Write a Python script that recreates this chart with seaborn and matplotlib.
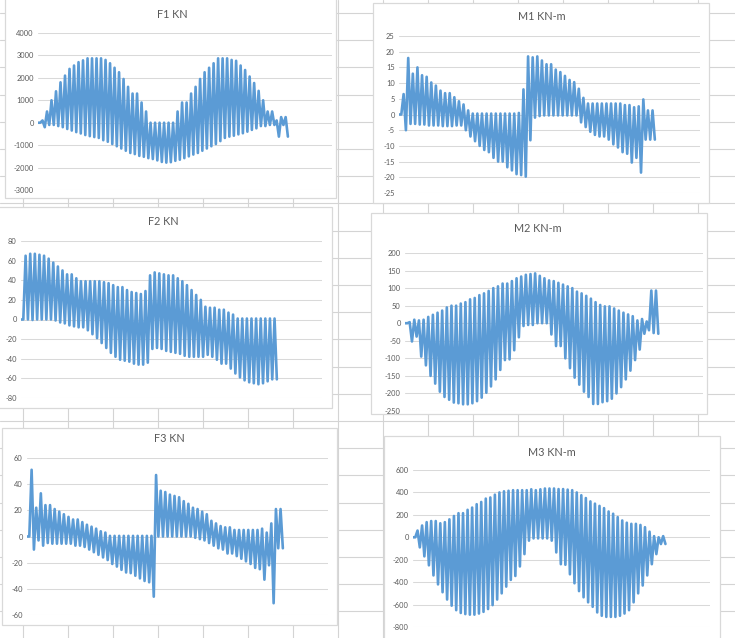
"""
plot.py — six Excel-style member force / moment traces laid out on a spreadsheet grid.
"""
import matplotlib
matplotlib.use("Agg")
import matplotlib.pyplot as plt
import seaborn as sns
import pandas as pd
from matplotlib.patches import Rectangle

# ─── Data (peak / trough of every load step) ─────────────────────────────────

f1_peaks = [100, 500, 1000, 1400, 1800, 2100, 2400, 2550, 2700, 2780,
            2870, 2870, 2870, 2870, 2800, 2650, 2450, 2250, 1950, 1600,
            1300, 1300, 900, 500, 0, 0, 0, 0, 0, 0,
            500, 900, 900, 1300, 1600, 1950, 2250, 2450, 2650, 2870,
            2870, 2870, 2800, 2760, 2550, 2350, 2060, 1770, 1420, 1000,
            500, 500, 100, 250, 250]
f1_troughs = [-200, -100, -100, -150, -200, -280, -350, -420, -480, -550,
              -600, -640, -680, -780, -850, -950, -1050, -1150, -1250, -1350,
              -1400, -1480, -1520, -1580, -1620, -1680, -1750, -1780, -1760, -1700,
              -1650, -1580, -1500, -1420, -1350, -1250, -1150, -1050, -950, -820,
              -680, -620, -580, -520, -470, -400, -320, -250, -150, -150,
              -100, -100, -620, -100, -620]

m1_peaks = [6.5, 18, 13, 15, 12.5, 12, 10.2, 9.2, 7.6, 6.8,
            6.8, 5.5, 4.2, 3.2, 1.3, 0.3, 0.3, 0.3, 0.3, 0.3,
            0.3, 0.3, 0.3, 0.3, 0.3, 0.5, 8, 18.5, 18.2, 18.5,
            17.2, 16, 16, 14.3, 13.5, 12.3, 11, 10.3, 8.2, 5.3,
            3.5, 3.5, 3.5, 3.5, 3.5, 3.5, 3.5, 3.5, 3, 3,
            2.3, 2.6, 4.8, 1.3, 1.3]
m1_troughs = [-5, -3, -3, -3.2, -3.2, -3.5, -3.5, -3.5, -3.7, -3.7,
              -3.7, -3.5, -3.5, -5, -7, -8.5, -10, -11.3, -12, -13.8,
              -15, -15, -16.8, -17.8, -19, -19.3, -19.8, -8.2, -1, -0.5,
              -0.3, -0.3, -0.3, -0.3, -0.3, -0.3, -0.3, -0.3, -2.5, -4,
              -5.5, -6.5, -7, -7, -8, -9.5, -10.5, -12, -12.5, -15.3,
              -13.8, -18.5, -8, -8, -8]

f2_peaks = [65, 67, 67, 66, 65, 62, 58, 54, 50, 46,
            46, 42, 39, 39, 39, 39, 39, 38, 37, 35,
            33, 33, 30, 28, 27, 26, 29, 45, 48, 47,
            46, 45, 45, 42, 39, 35, 30, 25, 20, 13,
            12, 12, 10, 10, 7, 5, 1, 1, 1, 1,
            1, 1, 1, 1, 1]
f2_troughs = [0, -0.5, 0, 0, 0, 0, -1, -3, -4, -6,
              -7, -8, -8, -11, -15, -19, -24, -29, -34, -38,
              -41, -42, -43, -45, -46, -46, -44, -30, -29, -30,
              -32, -33, -34, -35, -37, -38, -38, -38, -38, -36,
              -38, -41, -45, -45, -50, -55, -59, -62, -64, -65,
              -66, -65, -63, -61, -61]

m2_peaks = [3, 10, 8, 10, 18, 24, 30, 36, 45, 50,
            50, 56, 60, 68, 72, 80, 85, 92, 100, 105,
            113, 113, 120, 128, 133, 138, 140, 142, 135, 128,
            122, 120, 115, 110, 105, 100, 90, 85, 78, 70,
            60, 52, 48, 48, 42, 36, 30, 25, 20, 8,
            12, 5, 93, 93]
m2_troughs = [-52, -38, -95, -120, -150, -172, -195, -210, -218, -226,
              -228, -231, -231, -228, -222, -212, -198, -180, -160, -133,
              -105, -103, -77, -40, -8, -5, -5, 0, 0, 0,
              -32, -65, -65, -100, -128, -155, -175, -195, -210, -230,
              -230, -225, -222, -215, -200, -182, -160, -135, -105, -75,
              -30, -20, -28, -30]

f3_peaks = [51, 22, 33, 24, 24, 21, 19, 17, 15, 13,
            13, 11, 9, 7.5, 6, 4, 3, 0.5, 0.5, 0.5,
            0.5, 0.5, 0.5, 0.5, 0.5, 0.5, 0.5, 47, 35, 34,
            32, 31, 30, 27, 25, 22, 21, 19, 17, 12,
            10, 8, 7, 7, 5, 5, 5, 5, 5, 5,
            6, 3, 10, 21, 21]
f3_troughs = [-10, -3, -7, -5, -5.5, -5.5, -5.5, -5.5, -5.5, -7,
              -7, -8, -10, -12, -14, -16, -18, -21, -23, -25.5,
              -27.5, -28, -30, -32, -34, -35, -46, 0, 0, 0,
              0, 0, 0, 0, 0, -1, -2, -3, -5, -7,
              -9, -10, -13, -13, -15, -17, -19, -21, -24, -25,
              -33, -22, -51, -9, -9]

m3_peaks = [60, 105, 135, 145, 145, 125, 135, 160, 190, 215,
            215, 245, 265, 295, 315, 345, 355, 380, 400, 410,
            415, 420, 420, 420, 420, 428, 420, 428, 435, 435,
            435, 430, 430, 425, 420, 400, 375, 350, 320, 300,
            280, 260, 230, 210, 180, 150, 130, 120, 120, 110,
            90, 50, 10, 0, 10]
m3_troughs = [-90, -170, -250, -340, -420, -490, -555, -610, -650, -675,
              -685, -690, -690, -680, -665, -640, -605, -555, -500, -440,
              -380, -345, -260, -150, -30, -10, -10, -10, -10, -30,
              -135, -240, -245, -330, -410, -480, -535, -580, -620, -670,
              -700, -710, -710, -710, -700, -680, -650, -580, -500, -430,
              -340, -240, -150, -60, -60]

titles = ["F1 KN", "M1 KN-m", "F2 KN", "M2 KN-m", "F3 KN", "M3 KN-m"]
y_ticks = [
    list(range(-3000, 4001, 1000)),
    list(range(-25, 26, 5)),
    list(range(-80, 81, 20)),
    list(range(-250, 201, 50)),
    list(range(-60, 61, 20)),
    list(range(-800, 601, 200)),
]
series = [
    (f1_peaks, f1_troughs), (m1_peaks, m1_troughs),
    (f2_peaks, f2_troughs), (m2_peaks, m2_troughs),
    (f3_peaks, f3_troughs), (m3_peaks, m3_troughs),
]

# ─── Layout (pixel coords on a 735x638 canvas, y down) ───────────────────────

W, H = 735, 638
# chart box (x0, y0, x1, y1), plot area (x0, y0, x1, y1), title centre (x, y)
layout = [
    ((5, -2, 336, 198),   (38, 33, 332, 190),   (172, 15)),
    ((373, 3, 709, 203),  (399, 36, 700, 193),  (542, 17)),
    ((-2, 207, 332, 408), (21, 241, 322, 398),  (163, 222)),
    ((371, 213, 707, 414), (405, 253, 703, 411), (538, 229)),
    ((2, 428, 337, 625),  (27, 458, 328, 615),  (169, 439)),
    ((384, 436, 720, 641), (413, 470, 710, 627), (552, 452)),
]

LINE = "#5B9BD5"
GRID = "#D9D9D9"
TEXT = "#595959"
SHEET = "#D4D4D4"


def interleave(peaks, troughs):
    vals = [0.0, 0.0]
    for p, t in zip(peaks, troughs):
        vals += [p, t]
    return vals


def fig_rect(x0, y0, x1, y1):
    return [x0 / W, (H - y1) / H, (x1 - x0) / W, (y1 - y0) / H]


sns.set_theme(style="white")
plt.rcParams["font.family"] = ["Lato", "DejaVu Sans"]
plt.rcParams["axes.unicode_minus"] = False

fig = plt.figure(figsize=(W / 100, H / 100), dpi=100)

# spreadsheet background
bg = fig.add_axes([0, 0, 1, 1])
bg.set_xlim(0, W)
bg.set_ylim(H, 0)
bg.axis("off")
x = 23.0
while x < W:
    bg.axvline(x, color=SHEET, lw=0.8, zorder=0)
    x += 45
y = 13.0
while y < H:
    bg.axhline(y, color=SHEET, lw=0.8, zorder=0)
    y += 27.2

for (box, _, _) in layout:
    bx0, by0, bx1, by1 = box
    bg.add_patch(Rectangle((bx0, by0), bx1 - bx0, by1 - by0,
                           facecolor="white", edgecolor=GRID, lw=0.9, zorder=2))

# ─── Charts ──────────────────────────────────────────────────────────────────

for (peaks, troughs), title, ticks, (box, plot, tpos) in zip(series, titles, y_ticks, layout):
    vals = interleave(peaks, troughs)
    df = pd.DataFrame({"step": range(len(vals)), "value": vals})

    ax = fig.add_axes(fig_rect(*plot))
    ax.patch.set_alpha(0)
    sns.lineplot(data=df, x="step", y="value", ax=ax, color=LINE,
                 lw=1.9, sort=False, errorbar=None)

    ax.set_xlim(0, (len(vals) - 1) / 0.85)
    ax.set_ylim(ticks[0], ticks[-1])
    ax.set_yticks(ticks)
    ax.set_yticklabels([str(t) for t in ticks])
    ax.set_xticks([])
    ax.set_xlabel("")
    ax.set_ylabel("")
    ax.yaxis.grid(True, color=GRID, lw=0.75)
    ax.set_axisbelow(True)
    ax.tick_params(axis="y", length=0, pad=3, labelsize=5.4, labelcolor=TEXT)
    for s in ax.spines.values():
        s.set_visible(False)

    fig.text(tpos[0] / W, 1 - tpos[1] / H, title, ha="center", va="center",
             fontsize=7.8, color=TEXT)

fig.savefig("out.png", dpi=100)
plt.close(fig)
